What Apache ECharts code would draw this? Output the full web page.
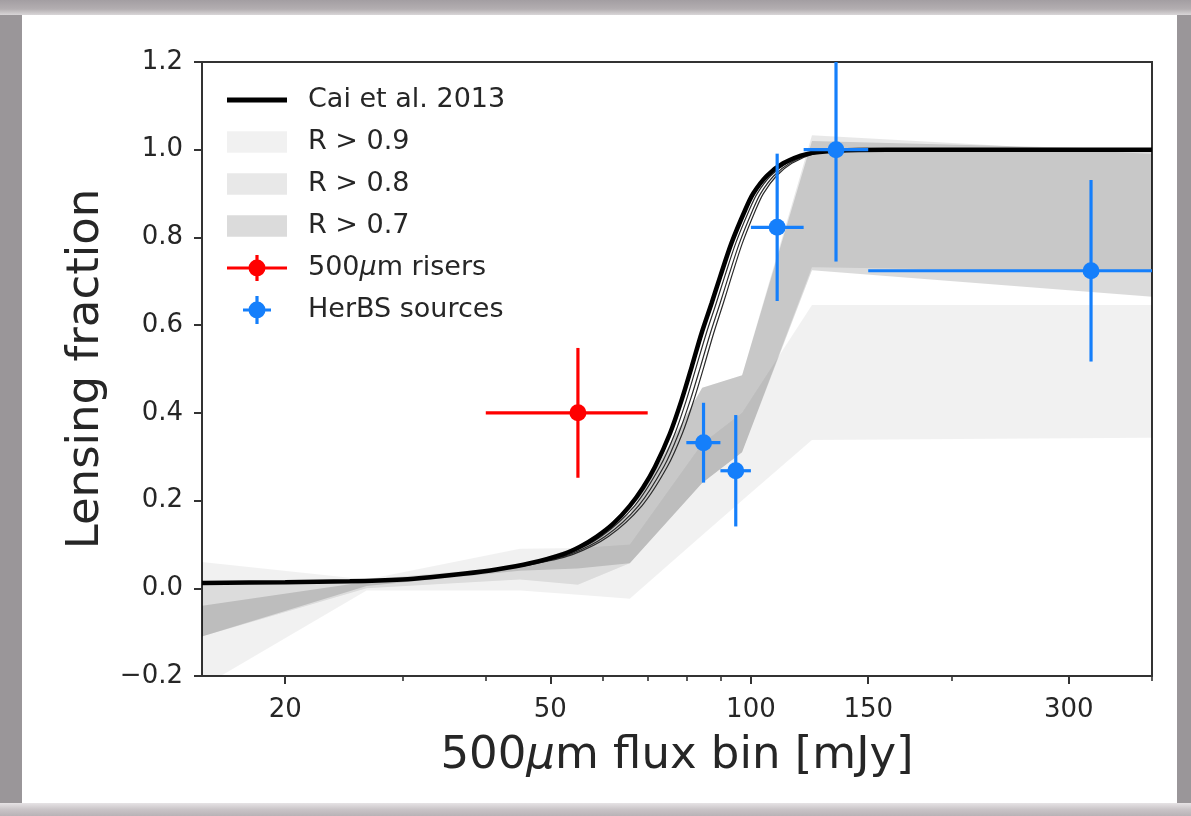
<!DOCTYPE html>
<html>
<head>
<meta charset="utf-8">
<script src="https://cdn.jsdelivr.net/npm/echarts@6/dist/echarts.min.js"></script>
<style>
  html, body { margin: 0; padding: 0; width: 1191px; height: 816px; overflow: hidden; background: #9a9699; }
  #edgeTop { position: absolute; left: 0; top: 0; width: 1191px; height: 15px;
             background: linear-gradient(180deg, #a39ea2 0%, #b3aeb1 60%, #d9d6d8 100%); }
  #edgeBottom { position: absolute; left: 0; top: 803px; width: 1191px; height: 13px;
                background: linear-gradient(180deg, #e6e3e5 0%, #c9c4c7 50%, #b8b2b6 100%); }
  #panel { position: absolute; left: 22px; top: 15px; width: 1155px; height: 788px; background: #ffffff; }
  #chart { position: absolute; left: 0; top: 0; width: 1191px; height: 816px; }
</style>
</head>
<body>
<div id="edgeTop"></div>
<div id="edgeBottom"></div>
<div id="panel"></div>
<div id="chart"></div>
<script>
// ---- Cai et al. 2013 model: lensing fraction vs 500um flux (mJy) ----
const caiFlux = [15, 20, 25, 30, 33, 37, 41.5, 46.6, 52.3, 55.4, 58.7, 62.2, 65.8, 68.9, 71.8, 75.6, 78.7, 81.5, 84.3, 87.3, 89.9, 93.5, 98.0, 100.8, 105.6, 111.8, 121.2, 135, 160, 400];
const caiFrac = [0.012, 0.014, 0.016, 0.020, 0.025, 0.033, 0.043, 0.057, 0.078, 0.095, 0.118, 0.148, 0.188, 0.230, 0.277, 0.353, 0.429, 0.505, 0.581, 0.650, 0.710, 0.787, 0.862, 0.900, 0.940, 0.969, 0.990, 0.998, 1.0, 1.0];

// thin companion model curves (same fractions, slightly higher flux)
const thinFrac  = [0.043, 0.057, 0.078, 0.118, 0.188, 0.277, 0.353, 0.429, 0.505, 0.581, 0.650, 0.710, 0.787, 0.862, 0.900, 0.940, 0.969, 0.990, 0.998];
const thinFluxA = [41.6, 47.0, 53.0, 59.6, 66.9, 73.0, 76.9, 80.0, 82.8, 85.7, 88.7, 91.3, 94.9, 99.4, 102.2, 107.0, 113.2, 122.3, 135];
const thinFluxB = [41.7, 47.4, 53.6, 60.4, 67.8, 74.0, 77.9, 81.1, 84.0, 86.9, 89.9, 92.5, 96.1, 100.6, 103.4, 108.2, 114.3, 123.1, 135];
const thinFluxC = [41.8, 47.8, 54.2, 61.1, 68.6, 74.9, 78.9, 82.1, 85.0, 87.9, 90.9, 93.5, 97.1, 101.6, 104.4, 109.2, 115.2, 123.8, 135];

// ---- reliability envelopes ----
const bandFlux = [15, 26.5, 45, 55, 65.8, 84.5, 97, 123.5, 400];
const r09Upper = [0.060, 0.020, 0.090, 0.092, 0.100, 0.330, 0.400, 0.646, 0.646];
const r09Lower = [-0.225, -0.005, -0.005, -0.015, -0.024, 0.121, 0.200, 0.338, 0.343];
const r08Upper = [0.013, 0.020, 0.050, 0.095, 0.170, 0.457, 0.486, 1.033, 0.990];
const r08Lower = [-0.110, 0.000, 0.020, 0.008, 0.057, 0.240, 0.310, 0.732, 0.720];
const r07Upper = [-0.040, 0.015, 0.050, 0.095, 0.170, 0.457, 0.486, 1.020, 1.000];
const r07Lower = [-0.110, 0.005, 0.040, 0.045, 0.057, 0.240, 0.310, 0.725, 0.665];

// ---- measurements ----
const risersFlux = [55];
const risersFluxLo = [40];
const risersFluxHi = [70];
const risersFrac = [0.40];
const risersErr = [0.148];

const herbsFlux   = [84.9, 94.9, 109.5, 134.2, 324];
const herbsFluxLo = [80, 90, 100, 120, 150];
const herbsFluxHi = [90, 100, 120, 150, 700];
const herbsFrac   = [0.332, 0.268, 0.823, 1.0, 0.724];
const herbsErr    = [0.091, 0.127, 0.168, 0.255, 0.207];

// ---- axis ticks (mJy) ----
const xMajorTicks = [20, 50, 100, 150, 300];
const xMinorTicks = [30, 40, 60, 70, 80, 90, 200, 400];
const xMin = 15, xMax = 400;

const FONT = 'DejaVu Sans';
const INK = '#262626';
const lg = Math.log10;

function clipRect(params) {
  const c = params.coordSys;
  return { type: 'rect', shape: { x: c.x, y: c.y, width: c.width, height: c.height } };
}

function band(name, lower, upper, color, z) {
  const rows = bandFlux.map((f, i) => [lg(f), lower[i], upper[i]]);
  return {
    type: 'custom', name, z, data: rows,
    encode: { x: 0, y: [1, 2] },
    itemStyle: { color },
    silent: true,
    renderItem(params, api) {
      if (params.dataIndex !== 0) return null;
      const pts = [];
      for (let i = 0; i < rows.length; i++) pts.push(api.coord([rows[i][0], rows[i][2]]));
      for (let i = rows.length - 1; i >= 0; i--) pts.push(api.coord([rows[i][0], rows[i][1]]));
      return {
        type: 'polygon', shape: { points: pts },
        style: { fill: color, stroke: null },
        clipPath: clipRect(params)
      };
    }
  };
}

function errorSeries(name, flux, lo, hi, frac, err, color) {
  const rows = flux.map((f, i) => [lg(f), frac[i], lg(lo[i]), lg(hi[i]), frac[i] - err[i], frac[i] + err[i]]);
  return {
    type: 'custom', name, z: 10, data: rows,
    encode: { x: [0, 2, 3], y: [1, 4, 5] },
    itemStyle: { color },
    silent: true,
    renderItem(params, api) {
      const c = api.coord([api.value(0), api.value(1)]);
      const l = api.coord([api.value(2), api.value(1)]);
      const r = api.coord([api.value(3), api.value(1)]);
      const b = api.coord([api.value(0), api.value(4)]);
      const t = api.coord([api.value(0), api.value(5)]);
      const ls = { stroke: color, lineWidth: 3.2 };
      return {
        type: 'group',
        clipPath: clipRect(params),
        children: [
          { type: 'line', shape: { x1: l[0], y1: l[1], x2: r[0], y2: r[1] }, style: ls },
          { type: 'line', shape: { x1: b[0], y1: b[1], x2: t[0], y2: t[1] }, style: ls },
          { type: 'circle', shape: { cx: c[0], cy: c[1], r: 8.5 }, style: { fill: color } }
        ]
      };
    }
  };
}

function thinLine(fluxArr) {
  return {
    type: 'line', z: 4, silent: true, symbol: 'none', smooth: 0.3,
    data: fluxArr.map((f, i) => [lg(f), thinFrac[i]]),
    lineStyle: { color: '#2a2a2a', width: 1.2 }
  };
}

const RED = '#ff0000';
const BLUE = '#157ffb';

const chart = echarts.init(document.getElementById('chart'), null, { renderer: 'canvas' });

chart.setOption({
  backgroundColor: 'transparent',
  animation: false,
  textStyle: { fontFamily: FONT },
  grid: {
    left: 202, right: 39, top: 62, bottom: 140,
    show: true, borderColor: '#333', borderWidth: 2, backgroundColor: 'transparent',
    containLabel: false, outerBoundsMode: 'none'
  },
  legend: {
    orient: 'vertical', left: 227, top: 86, padding: 0,
    itemWidth: 60, itemHeight: 28, itemGap: 14,
    selectedMode: false,
    itemStyle: { borderWidth: 0 },
    textStyle: {
      fontFamily: FONT, fontSize: 27, color: INK, lineHeight: 28, padding: [0, 0, 0, 16],
      rich: { mu: { fontFamily: FONT, fontSize: 27, fontStyle: 'italic', color: INK } }
    },
    formatter: name => name.replace('μ', '{mu|μ}'),
    data: [
      { name: 'Cai et al. 2013', icon: 'path://M0,0H60V5H0Z' },
      { name: 'R > 0.9', icon: 'path://M0,0H58V21H0Z' },
      { name: 'R > 0.8', icon: 'path://M0,0H58V21H0Z' },
      { name: 'R > 0.7', icon: 'path://M0,0H58V21H0Z' },
      { name: '500μm risers', icon: 'path://M0,12.4H60V15.6H0Z M28.4,1H31.6V27H28.4Z M30,5.5A8.5,8.5 0 1,1 29.99,5.5Z' },
      { name: 'HerBS sources', icon: 'path://M0,12.4H28V15.6H0Z M12.4,0H15.6V28H12.4Z M14,5.5A8.5,8.5 0 1,1 13.99,5.5Z' }
    ]
  },
  xAxis: [
    {
      type: 'value', position: 'bottom', min: lg(xMin), max: lg(xMax),
      name: '500{mu|μ}m flux bin [mJy]', nameLocation: 'middle', nameGap: 58,
      nameTextStyle: {
        fontFamily: FONT, fontSize: 45, color: INK,
        rich: { mu: { fontFamily: FONT, fontSize: 45, fontStyle: 'italic', color: INK } }
      },
      splitLine: { show: false },
      axisLine: { show: true, onZero: false, lineStyle: { color: '#333', width: 2 } },
      axisTick: { show: true, inside: false, length: 8, customValues: xMajorTicks.map(lg), lineStyle: { color: '#333', width: 2 } },
      axisLabel: {
        show: true, margin: 21, fontFamily: FONT, fontSize: 26, color: INK,
        customValues: xMajorTicks.map(lg),
        formatter: v => String(Math.round(Math.pow(10, v)))
      }
    },
    {
      type: 'value', position: 'bottom', min: lg(xMin), max: lg(xMax),
      splitLine: { show: false },
      axisLine: { show: false, onZero: false },
      axisTick: { show: true, inside: false, length: 5, customValues: xMinorTicks.map(lg), lineStyle: { color: '#333', width: 1.6 } },
      axisLabel: { show: false }
    }
  ],
  yAxis: {
    type: 'value', min: -0.2, max: 1.2, interval: 0.2,
    name: 'Lensing fraction', nameLocation: 'middle', nameGap: 84, nameRotate: 90,
    nameTextStyle: { fontFamily: FONT, fontSize: 45, color: INK },
    splitLine: { show: false },
    axisLine: { show: true, onZero: false, lineStyle: { color: '#333', width: 2 } },
    axisTick: { show: true, inside: false, length: 8, lineStyle: { color: '#333', width: 2 } },
    axisLabel: {
      margin: 19, fontFamily: FONT, fontSize: 26, color: INK,
      formatter: v => (v < -1e-9 ? '\u2212' : '') + Math.abs(v).toFixed(1)
    }
  },
  series: [
    band('R > 0.9', r09Lower, r09Upper, 'rgba(0,0,0,0.055)', 1),
    band('R > 0.8', r08Lower, r08Upper, 'rgba(0,0,0,0.09)', 2),
    band('R > 0.7', r07Lower, r07Upper, 'rgba(0,0,0,0.14)', 3),
    thinLine(thinFluxC),
    thinLine(thinFluxB),
    thinLine(thinFluxA),
    {
      type: 'line', name: 'Cai et al. 2013', z: 5, silent: true, symbol: 'none', smooth: 0.3,
      data: caiFlux.map((f, i) => [lg(f), caiFrac[i]]),
      itemStyle: { color: '#000' },
      lineStyle: { color: '#000', width: 4.5 }
    },
    errorSeries('500μm risers', risersFlux, risersFluxLo, risersFluxHi, risersFrac, risersErr, RED),
    errorSeries('HerBS sources', herbsFlux, herbsFluxLo, herbsFluxHi, herbsFrac, herbsErr, BLUE)
  ]
});
</script>
</body>
</html>
